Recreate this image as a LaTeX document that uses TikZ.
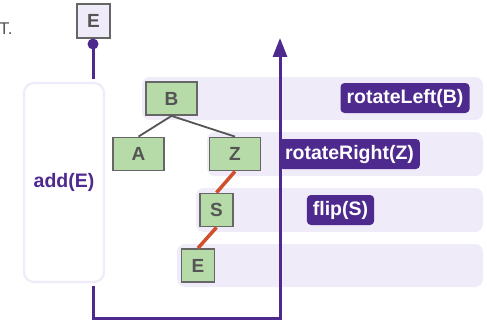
\documentclass[tikz,border=0pt]{standalone}
\usepackage{fontspec}
\setmainfont{Liberation Sans}
\usepackage{tkz-euclide}
\usetikzlibrary{arrows.meta}
\definecolor{opPurple}{HTML}{4E2A8E}
\definecolor{bandLav}{HTML}{EFEBF8}
\definecolor{leafGreen}{HTML}{B6DAA8}
\definecolor{boxGray}{HTML}{666666}
\definecolor{txtGray}{HTML}{555555}
\definecolor{rotRed}{HTML}{D0502E}

\begin{document}
\begin{tikzpicture}[x=1pt, y=-1pt,
	band/.style={fill=bandLav, rounded corners=8pt},
	treenode/.style={draw=boxGray, line width=1.8pt, fill=leafGreen, text=txtGray, inner sep=0pt, minimum height=33pt, font=\bfseries\fontsize{19}{19}\selectfont},
	newnode/.style={treenode, fill=bandLav, minimum width=33pt, minimum height=34pt},
	treeedge/.style={draw=txtGray, line width=1.8pt},
	rotedge/.style={draw=rotRed, line width=3.5pt},
	opline/.style={draw=opPurple, line width=3pt},
	oplabel/.style={fill=opPurple, rounded corners=4pt, text=white, inner xsep=6pt, inner ysep=0pt, minimum height=30pt, font=\bfseries\fontsize{19.5}{19.5}\selectfont},
	addbox/.style={draw=bandLav, line width=2.2pt, fill=white, rounded corners=10pt, minimum width=80pt, minimum height=199pt, text=opPurple, font=\bfseries\fontsize{19.5}{19.5}\selectfont}]
	\useasboundingbox (0,0) rectangle (487,321);
	\tkzDefPoint(93,44){dot}
	\tkzDefPoint(280,318){bend}
	\tkzDefPoint(280,38){top}
	\fill[band] (142,77) rectangle (483,120);
	\fill[band] (207,132) rectangle (483,176);
	\fill[band] (196,188) rectangle (483,232);
	\fill[band] (177,244) rectangle (483,287);
	\node[anchor=base east, text=txtGray, font=\fontsize{17}{17}\selectfont] (cut) at (16,35) {T.};
	\node[newnode] (newE) at (93.5,21) {E};
	\node[addbox] (add) at (64,182.5) {add(E)};
	\fill[opPurple] (dot) circle (5.5);
	\draw[opline, shorten >=3pt] (dot) -- (add.north -| dot);
	\draw[opline, shorten <=3pt, -{Triangle[width=14pt,length=19pt]}] (add.south -| dot) |- (bend) -- (top);
	\node[treenode, minimum width=51pt] (b) at (171.5,98.5) {B};
	\node[treenode, minimum width=51pt] (a) at (138.5,154) {A};
	\node[treenode, minimum width=51pt] (z) at (235,154) {Z};
	\node[treenode, minimum width=33pt] (s) at (216.5,210) {S};
	\node[treenode, minimum width=33pt] (e) at (198,265.5) {E};
	\draw[treeedge] (b.south) -- (a.north) (b.south) -- (z.north);
	\draw[rotedge] (z.south) -- (s.north) (s.south) -- (e.north);
	\node[oplabel] (rl) at (405,98) {rotateLeft(B)};
	\node[oplabel] (rr) at (349.5,154) {rotateRight(Z)};
	\node[oplabel] (fl) at (340.5,210) {flip(S)};
\end{tikzpicture}
\end{document}
